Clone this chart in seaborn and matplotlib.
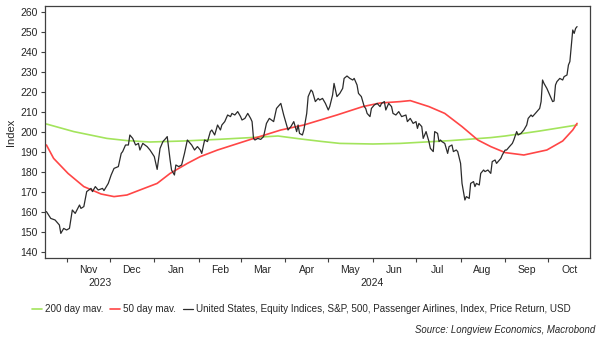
import numpy as np
import pandas as pd
import matplotlib
matplotlib.use("Agg")
import matplotlib.pyplot as plt
import matplotlib.dates as mdates
import matplotlib.ticker as mticker
import matplotlib.transforms as mtransforms
import seaborn as sns

# ---------------- data (days counted from 1 Nov 2023) ----------------
start = pd.Timestamp("2023-11-01")

black_day = [-14, -11, -8, -5, -4, -2, 0, 2, 4, 6, 9, 10, 12, 14, 17, 18, 20, 22, 25, 26,
             29, 31, 33, 36, 38, 39, 41, 43, 44, 46, 48, 50, 51, 53, 56, 58, 61, 63, 65, 67,
             69, 70, 72, 73, 75, 76, 78, 80, 82, 84, 86, 87, 89, 91, 93, 94, 96, 98, 100, 101,
             103, 105, 107, 108, 110, 112, 114, 115, 117, 119, 121, 122, 124, 126, 128, 129, 130, 131, 133, 135,
             137, 139, 141, 144, 146, 149, 151, 153, 154, 156, 158, 160, 161, 162, 164, 165, 167, 168, 170, 171,
             173, 175, 176, 178, 180, 182, 183, 185, 186, 188, 190, 192, 193, 195, 197, 199, 200, 202, 203, 205,
             207, 208, 209, 211, 212, 214, 216, 218, 219, 221, 222, 224, 226, 227, 229, 231, 233, 236, 237, 239,
             241, 243, 244, 245, 247, 248, 250, 252, 253, 255, 256, 258, 259, 260, 261, 263, 265, 266, 268, 269,
             271, 272, 274, 275, 277, 278, 280, 281, 283, 284, 285, 287, 288, 290, 291, 293, 295, 296, 298, 299,
             302, 303, 305, 306, 308, 310, 311, 313, 314, 316, 318, 320, 321, 323, 324, 326, 328, 329, 330, 331,
             332, 334, 336, 338, 339, 340, 341, 343, 345, 346, 348, 349, 350, 352, 353, 354, 355]
black_val = [160.2, 156.8, 156.0, 153.5, 149.3, 151.8, 151.0, 151.8, 161.0, 159.3, 163.5, 161.8, 162.7, 170.2, 171.8, 170.2, 172.7, 171.0, 171.8, 170.7,
             174.3, 178.5, 181.8, 182.7, 189.3, 190.2, 193.5, 193.5, 198.5, 196.8, 193.5, 194.3, 191.0, 194.3, 192.7, 191.0, 187.7, 181.3, 191.8, 195.2,
             196.8, 197.7, 186.0, 181.0, 178.5, 183.5, 182.7, 183.5, 189.3, 196.0, 194.3, 193.5, 191.0, 192.7, 191.0, 189.3, 196.0, 195.2, 200.2, 201.0,
             198.5, 203.5, 201.0, 203.5, 205.2, 208.5, 207.7, 209.3, 208.5, 210.2, 207.7, 206.0, 206.8, 209.3, 206.8, 205.2, 196.8, 196.0, 196.8, 196.3,
             197.7, 204.3, 206.8, 205.2, 211.8, 214.3, 208.5, 203.5, 201.0, 202.7, 205.2, 200.2, 203.5, 199.3, 198.5, 201.0, 209.3, 217.7, 221.0, 220.2,
             215.2, 216.8, 216.0, 216.8, 214.3, 211.0, 212.7, 218.5, 224.3, 217.7, 219.3, 221.8, 226.8, 228.0, 226.8, 226.0, 226.8, 223.5, 219.3, 217.7,
             212.7, 211.8, 209.3, 207.7, 211.8, 213.5, 214.3, 212.7, 214.3, 215.2, 211.0, 214.3, 212.7, 209.3, 208.5, 210.2, 207.7, 208.5, 205.2, 206.8,
             204.3, 205.2, 201.8, 204.3, 202.7, 196.8, 200.2, 195.2, 191.8, 190.2, 200.2, 199.3, 195.2, 196.0, 195.2, 194.3, 189.3, 192.7, 193.5, 190.2,
             191.0, 190.2, 184.3, 174.3, 166.0, 167.7, 166.8, 174.3, 175.2, 172.7, 174.3, 173.5, 179.3, 181.0, 180.2, 181.0, 179.3, 185.2, 186.0, 184.3,
             186.8, 188.5, 191.0, 191.0, 192.7, 194.3, 196.0, 200.2, 198.5, 199.3, 201.0, 203.5, 206.8, 208.5, 207.7, 209.3, 211.0, 211.8, 215.2, 226.0,
             224.3, 221.8, 218.5, 215.2, 215.5, 223.5, 225.2, 226.8, 226.0, 227.7, 228.5, 233.5, 235.2, 251.0, 249.3, 251.8, 252.7]

red_day = [-14, -9, 1, 12, 24, 33, 42, 51, 63, 72, 84, 93, 105, 128, 149, 165, 188, 206, 218, 232,
           239, 252, 263, 275, 286, 295, 305, 318, 334, 345, 352, 355]
red_val = [193.5, 186.8, 179.3, 172.7, 169.0, 167.7, 168.5, 171.0, 174.3, 179.3, 184.3, 187.7, 191.0, 196.3, 201.0, 203.5, 208.5, 212.7, 214.5, 215.2,
           215.7, 212.7, 209.3, 202.7, 196.0, 192.7, 189.7, 188.5, 191.0, 195.5, 201.0, 204.3]

green_day = [-14, 5, 28, 42, 58, 81, 105, 128, 147, 163, 177, 190, 213, 232, 267, 295, 305, 329, 355]
green_val = [204.0, 200.2, 196.8, 195.7, 195.0, 195.5, 196.3, 197.2, 198.0, 196.5, 195.3, 194.3, 194.0, 194.3, 195.7, 197.2, 198.0, 200.5, 203.5]

series_labels = ["200 day mav.", "50 day mav.",
                 "United States, Equity Indices, S&P, 500, Passenger Airlines, Index, Price Return, USD"]
y_ticks = list(range(140, 261, 10))
year_labels = ["2023", "2024"]


def frame(days, vals):
    return pd.DataFrame({"date": start + pd.to_timedelta(days, unit="D"), "value": vals})


df_black = frame(black_day, black_val)
df_red = frame(red_day, red_val)
df_green = frame(green_day, green_val)

# ---------------- style ----------------
sns.set_style("ticks")
plt.rcParams["font.family"] = ["Liberation Sans", "DejaVu Sans"]
plt.rcParams["font.size"] = 7.5

fig = plt.figure(figsize=(6.02, 3.38), dpi=100)
ax = fig.add_axes([45 / 602, 1 - 258 / 338, 545 / 602, 252 / 338])

sns.lineplot(data=df_green, x="date", y="value", ax=ax, color="#a3e45c", lw=1.2, label=series_labels[0])
sns.lineplot(data=df_red, x="date", y="value", ax=ax, color="#ff4646", lw=1.2, label=series_labels[1])
sns.lineplot(data=df_black, x="date", y="value", ax=ax, color="#2b2b2b", lw=0.9, label=series_labels[2])

x0 = start + pd.Timedelta(days=-15)
x1 = start + pd.Timedelta(days=364)
ax.set_xlim(x0, x1)
ax.set_ylim(137, 263)
ax.set_yticks(y_ticks)
ax.set_ylabel("Index", fontsize=8, labelpad=3)
ax.set_xlabel("")

ax.xaxis.set_major_locator(mdates.MonthLocator())
ax.xaxis.set_major_formatter(mticker.NullFormatter())
ax.xaxis.set_minor_locator(mdates.MonthLocator(bymonthday=16))
ax.xaxis.set_minor_formatter(mdates.DateFormatter("%b"))
ax.tick_params(axis="x", which="major", length=3, width=0.8, color="#404040")
ax.tick_params(axis="x", which="minor", length=0, pad=5, labelsize=7.5)
ax.tick_params(axis="y", length=3, width=0.8, color="#404040", labelsize=7.5, pad=2)

for s in ax.spines.values():
    s.set_visible(True)
    s.set_color("#404040")
    s.set_linewidth(0.9)

# year labels centred on each year's visible span
trans = mtransforms.blended_transform_factory(ax.transData, ax.transAxes)
y_bounds = [(x0, pd.Timestamp("2024-01-01")), (pd.Timestamp("2024-01-01"), x1)]
for lab, (a, b) in zip(year_labels, y_bounds):
    mid = mdates.date2num(a) + (mdates.date2num(b) - mdates.date2num(a)) / 2
    ax.text(mid, -0.099, lab, transform=trans, ha="center", va="center", fontsize=7.5)

ax.get_legend().remove()
handles, labels = ax.get_legend_handles_labels()
fig.legend(handles, labels, loc="center", bbox_to_anchor=(0.5, 1 - 309 / 338), ncol=3,
           frameon=False, fontsize=7.1, handlelength=1.0, handletextpad=0.3, columnspacing=0.7)

fig.text(595 / 602, 1 - 330 / 338, "Source: Longview Economics, Macrobond", ha="right", va="center",
         style="italic", fontsize=6.9)

fig.savefig("out.png", dpi=100)
